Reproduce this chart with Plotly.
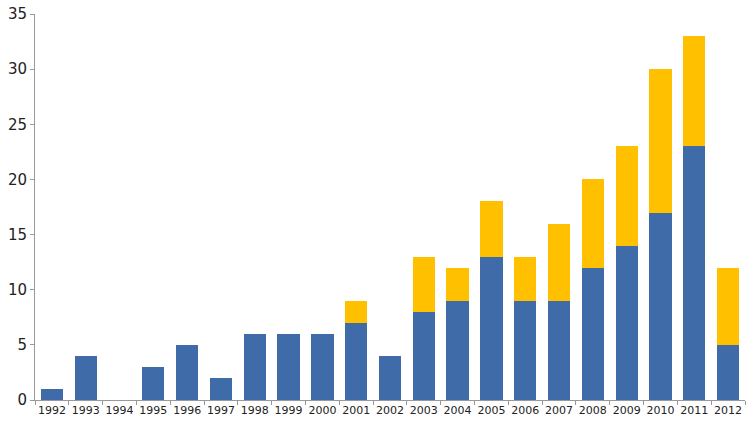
import plotly.graph_objects as go

years = [str(y) for y in range(1992, 2013)]
blue = [1, 4, 0, 3, 5, 2, 6, 6, 6, 7, 4, 8, 9, 13, 9, 9, 12, 14, 17, 23, 5]
yellow = [0, 0, 0, 0, 0, 0, 0, 0, 0, 2, 0, 5, 3, 5, 4, 7, 8, 9, 13, 10, 7]
y_ticks = [0, 5, 10, 15, 20, 25, 30, 35]

fig = go.Figure()
fig.add_bar(x=years, y=blue, marker=dict(color="#3f6ca8", line=dict(width=0)))
fig.add_bar(x=years, y=yellow, marker=dict(color="#ffc000", line=dict(width=0)))

fig.update_layout(
    barmode="stack",
    bargap=0.34,
    width=754, height=425,
    margin=dict(l=35, r=9, t=14, b=25),
    plot_bgcolor="white", paper_bgcolor="white",
    showlegend=False,
    font=dict(family="DejaVu Sans", color="#222222"),
)
fig.update_xaxes(
    type="category", showline=True, linecolor="#999999", linewidth=1,
    ticks="outside", tickson="boundaries", ticklen=4, tickcolor="#999999",
    tickfont=dict(size=11), tickangle=0, showgrid=False, automargin=False,
    ticklabeloverflow="allow",
)
fig.update_yaxes(
    range=[0, 35], tickvals=y_ticks, showline=True, linecolor="#999999", linewidth=1,
    ticks="outside", ticklen=4, tickcolor="#999999", tickfont=dict(size=15),
    showgrid=False, zeroline=False, automargin=False, ticklabeloverflow="allow",
)
fig.write_html(
    "out.html",
    config={"displayModeBar": False},
    post_script="document.body.style.margin='0';document.body.style.overflow='hidden';",
)
